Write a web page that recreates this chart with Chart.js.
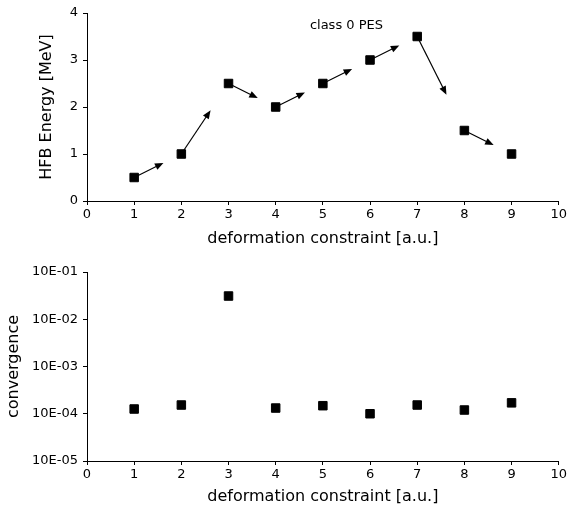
<!DOCTYPE html>
<html>
<head>
<meta charset="utf-8">
<script src="https://cdn.jsdelivr.net/npm/chart.js@4/dist/chart.umd.min.js"></script>
<style>
  html, body { margin: 0; padding: 0; background: #fff; }
  #wrap { position: relative; width: 569px; height: 505px; }
  .panel { position: absolute; left: 0; width: 569px; }
  #topPanel { top: 0; height: 250px; }
  #botPanel { top: 250px; height: 255px; }
</style>
</head>
<body>
<div id="wrap">
  <div class="panel" id="topPanel"><canvas id="energy" width="569" height="250"></canvas></div>
  <div class="panel" id="botPanel"><canvas id="conv" width="569" height="255"></canvas></div>
</div>
<script>
// deformation constraint values (x) shared by both panels
const constraints = [1, 2, 3, 4, 5, 6, 7, 8, 9];
// HFB energy along the constrained path [MeV]
const hfbEnergy = [0.5, 1.0, 2.5, 2.0, 2.5, 3.0, 3.5, 1.5, 1.0];
// final convergence measure of each constrained calculation
const convergence = [1.26e-4, 1.53e-4, 3.1e-2, 1.32e-4, 1.48e-4, 1.0e-4, 1.53e-4, 1.2e-4, 1.7e-4];

const xTicks = [0, 1, 2, 3, 4, 5, 6, 7, 8, 9, 10];
const energyTicks = [0, 1, 2, 3, 4];
const convTicks = [1e-5, 1e-4, 1e-3, 1e-2, 1e-1];
const convTickLabels = ['10E-05', '10E-04', '10E-03', '10E-02', '10E-01'];

const pesLabel = 'class 0 PES';
const pesLabelAt = [5.5, 3.73];
// arrows point from each state toward the next one, covering this fraction of the step
const arrowReach = 0.62;

Chart.defaults.font.family = "'DejaVu Sans', sans-serif";
Chart.defaults.color = '#000';

const FONT_TICK = { size: 13 };
const FONT_TITLE = { size: 16, lineHeight: 1 };

function fixedTicks(list) {
  return (scale) => { scale.ticks = list.map(v => ({ value: v })); };
}

function xAxis(height, titleBottom) {
  return {
    type: 'linear', min: 0, max: 10,
    afterBuildTicks: fixedTicks(xTicks),
    ticks: { font: FONT_TICK, color: '#000', padding: 2, maxRotation: 0, autoSkip: false },
    grid: { drawOnChartArea: false, drawTicks: true, tickLength: 4, color: '#000', tickWidth: 1 },
    border: { display: true, color: '#000', width: 1 },
    title: { display: true, text: 'deformation constraint [a.u.]', font: FONT_TITLE, color: '#000',
             padding: { top: 0, bottom: titleBottom } },
    afterFit: (s) => { s.height = height; }
  };
}

function pointSet(ys) {
  return {
    data: constraints.map((x, i) => ({ x: x, y: ys[i] })),
    pointStyle: 'rect',
    pointRadius: 6,
    pointHoverRadius: 6,
    backgroundColor: '#000',
    borderColor: '#000',
    borderWidth: 1,
    showLine: false
  };
}

// arrows between consecutive states on the energy surface
const pathArrows = {
  id: 'pathArrows',
  beforeDatasetsDraw(chart) {
    const { ctx, scales: { x, y } } = chart;
    ctx.save();
    ctx.strokeStyle = '#000';
    ctx.fillStyle = '#000';
    ctx.lineWidth = 1.2;
    for (let i = 0; i < constraints.length - 1; i++) {
      const x0 = x.getPixelForValue(constraints[i]);
      const y0 = y.getPixelForValue(hfbEnergy[i]);
      const x1 = x.getPixelForValue(constraints[i + 1]);
      const y1 = y.getPixelForValue(hfbEnergy[i + 1]);
      const tx = x0 + (x1 - x0) * arrowReach;
      const ty = y0 + (y1 - y0) * arrowReach;
      const ang = Math.atan2(ty - y0, tx - x0);
      const headLen = 8.5, headHalf = 3.5;
      const bx = tx - Math.cos(ang) * headLen;
      const by = ty - Math.sin(ang) * headLen;
      ctx.beginPath();
      ctx.moveTo(x0, y0);
      ctx.lineTo(bx + Math.cos(ang) * 1, by + Math.sin(ang) * 1);
      ctx.stroke();
      ctx.beginPath();
      ctx.moveTo(tx, ty);
      ctx.lineTo(bx + Math.sin(ang) * headHalf, by - Math.cos(ang) * headHalf);
      ctx.lineTo(bx - Math.sin(ang) * headHalf, by + Math.cos(ang) * headHalf);
      ctx.closePath();
      ctx.fill();
    }
    ctx.restore();
  },
  afterDraw(chart) {
    const { ctx, scales: { x, y } } = chart;
    ctx.save();
    ctx.font = "13px 'DejaVu Sans', sans-serif";
    ctx.fillStyle = '#000';
    ctx.textAlign = 'center';
    ctx.textBaseline = 'middle';
    ctx.fillText(pesLabel, x.getPixelForValue(pesLabelAt[0]), y.getPixelForValue(pesLabelAt[1]));
    ctx.restore();
  }
};

new Chart(document.getElementById('energy'), {
  type: 'scatter',
  data: { datasets: [pointSet(hfbEnergy)] },
  options: {
    responsive: false,
    animation: false,
    layout: { padding: { top: 13, right: 10, left: 0, bottom: 0 } },
    plugins: { legend: { display: false }, tooltip: { enabled: false } },
    scales: {
      x: xAxis(49, 3),
      y: {
        type: 'linear', min: 0, max: 4,
        afterBuildTicks: fixedTicks(energyTicks),
        ticks: { font: FONT_TICK, color: '#000', padding: 5 },
        grid: { drawOnChartArea: false, drawTicks: true, tickLength: 4, color: '#000' },
        border: { display: true, color: '#000', width: 1 },
        title: { display: true, text: 'HFB Energy [MeV]', font: FONT_TITLE, color: '#000',
                 padding: { top: 39, bottom: 0 } },
        afterFit: (s) => { s.width = 87; }
      }
    }
  },
  plugins: [pathArrows]
});

new Chart(document.getElementById('conv'), {
  type: 'scatter',
  data: { datasets: [pointSet(convergence)] },
  options: {
    responsive: false,
    animation: false,
    layout: { padding: { top: 22, right: 10, left: 0, bottom: 0 } },
    plugins: { legend: { display: false }, tooltip: { enabled: false } },
    scales: {
      x: xAxis(44, 0),
      y: {
        type: 'logarithmic', min: 1e-5, max: 1e-1,
        afterBuildTicks: fixedTicks(convTicks),
        ticks: {
          font: FONT_TICK, color: '#000', padding: 5,
          callback: (v) => {
            const k = convTicks.findIndex(t => Math.abs(Math.log10(t) - Math.log10(v)) < 1e-6);
            return k >= 0 ? convTickLabels[k] : '';
          }
        },
        grid: { drawOnChartArea: false, drawTicks: true, tickLength: 4, color: '#000' },
        border: { display: true, color: '#000', width: 1 },
        title: { display: true, text: 'convergence', font: FONT_TITLE, color: '#000',
                 padding: { top: 6, bottom: 0 } },
        afterFit: (s) => { s.width = 87; }
      }
    }
  }
});
</script>
</body>
</html>
